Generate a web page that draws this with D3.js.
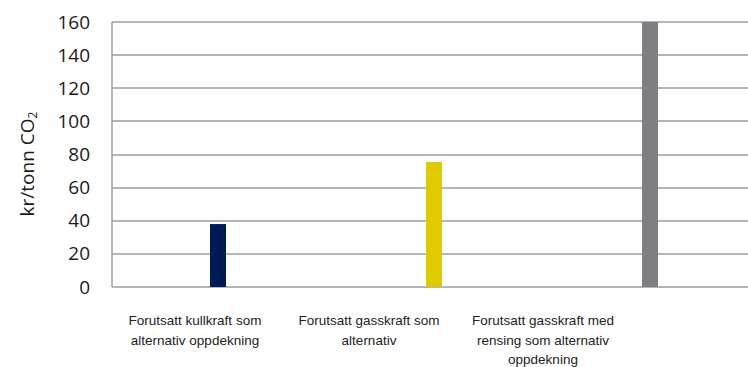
<!DOCTYPE html>
<html>
<head>
<meta charset="UTF-8">
<script src="https://d3js.org/d3.v7.min.js"></script>
<style>
  body { margin: 0; background: #fff; }
</style>
</head>
<body>
<div id="chart"></div>
<script>
const categories = ["kull", "gass", "gassRensing"];
const values = [38, 75.5, 160];
const colors = ["#001a56", "#dfca00", "#7f7e83"];
const labels = [
  ["Forutsatt kullkraft som", "alternativ oppdekning"],
  ["Forutsatt gasskraft som", "alternativ"],
  ["Forutsatt gasskraft med", "rensing som alternativ", "oppdekning"]
];
const yTicks = [0, 20, 40, 60, 80, 100, 120, 140, 160];

const width = 748, height = 367;
const plot = { left: 112, top: 22, bottom: 287, right: 748 };

const svg = d3.select("#chart").append("svg").attr("width", width).attr("height", height);

// bars sit on a wider band than the visible area
const x = d3.scaleBand().domain(categories).range([110, 758]);
// labels are laid out on their own, narrower band
const xLab = d3.scaleBand().domain(categories).range([108, 630]);
const y = d3.scaleLinear().domain([0, 160]).range([plot.bottom, plot.top]);

// gridlines
svg.append("g").selectAll("path").data(yTicks).join("path")
  .attr("d", d => `M${plot.left},${Math.round(y(d))}H${plot.right}`)
  .attr("stroke", "#9c9c9c").attr("stroke-width", 1.5)
  .attr("fill", "none");

// left axis line
svg.append("path")
  .attr("d", `M${plot.left},${plot.top}V${plot.bottom}`)
  .attr("stroke", "#9c9c9c").attr("stroke-width", 1.5);

// y tick labels
const yAxis = d3.axisLeft(y).tickValues(yTicks).tickSize(0).tickPadding(22);
const gy = svg.append("g").attr("transform", `translate(${plot.left},0)`).call(yAxis);
gy.select(".domain").remove();
gy.selectAll("text")
  .attr("font-family", "Open Sans").attr("font-size", 19).attr("fill", "#1a1a1a");

// bars
const barW = 16;
svg.append("g").selectAll("rect").data(categories).join("rect")
  .attr("x", d => x(d) + x.bandwidth() / 2 - barW / 2)
  .attr("width", barW)
  .attr("y", (d, i) => y(values[i]))
  .attr("height", (d, i) => y(0) - y(values[i]))
  .attr("fill", (d, i) => colors[i]);

// category labels
const lab = svg.append("g").selectAll("text").data(categories).join("text")
  .attr("text-anchor", "middle")
  .attr("font-family", "Liberation Sans Narrow, Arial Narrow, sans-serif")
  .attr("font-size", 13.5).attr("fill", "#222")
  .attr("x", d => xLab(d) + xLab.bandwidth() / 2)
  .attr("y", 325);
lab.selectAll("tspan").data((d, i) => labels[i]).join("tspan")
  .attr("x", function() { return this.parentNode.getAttribute("x"); })
  .attr("dy", (d, j) => j === 0 ? 0 : 19.5)
  .text(d => d);

// y axis title
const title = svg.append("text")
  .attr("transform", "translate(34,164) rotate(-90)")
  .attr("text-anchor", "middle")
  .attr("font-family", "Open Sans").attr("font-size", 19).attr("fill", "#1a1a1a");
title.append("tspan").text("kr/tonn CO");
title.append("tspan").attr("font-size", 12).attr("dy", 3).text("2");
</script>
</body>
</html>
